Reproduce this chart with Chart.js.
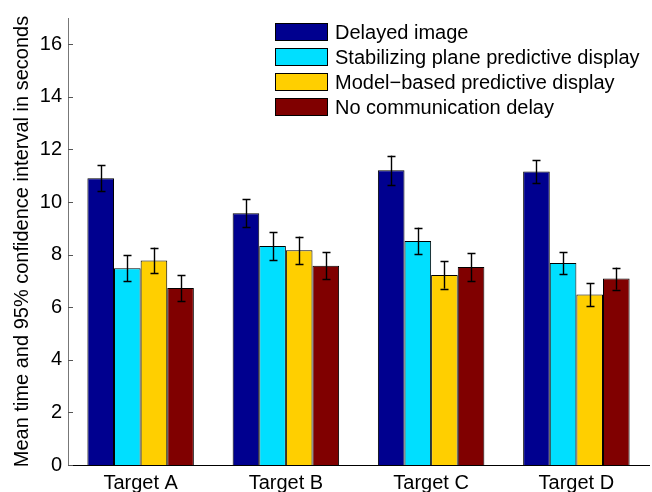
<!DOCTYPE html>
<html>
<head>
<meta charset="utf-8">
<script src="https://cdn.jsdelivr.net/npm/chart.js@4.4.1/dist/chart.umd.min.js"></script>
<style>
  html, body { margin: 0; padding: 0; background: #fff; }
  #wrap { width: 652px; height: 492px; }
</style>
</head>
<body>
<div id="wrap"><canvas id="c" width="652" height="492"></canvas></div>
<script>
// Target categories and condition names
const categories = ['Target A', 'Target B', 'Target C', 'Target D'];
const seriesNames = [
  'Delayed image',
  'Stabilizing plane predictive display',
  'Model\u2212based predictive display',
  'No communication delay'
];
const seriesColors = ['#00008f', '#00dfff', '#ffcf00', '#800000'];

// Mean completion time (s) per condition
const delayedImage   = [10.91, 9.57, 11.21, 11.16];
const stabilizing    = [7.48, 8.33, 8.52, 7.68];
const modelBased     = [7.78, 8.17, 7.23, 6.48];
const noDelay        = [6.73, 7.58, 7.53, 7.09];

// Half-width of the 95% confidence interval (s)
const delayedImageCI = [0.50, 0.53, 0.56, 0.45];
const stabilizingCI  = [0.50, 0.52, 0.51, 0.42];
const modelBasedCI   = [0.49, 0.52, 0.52, 0.43];
const noDelayCI      = [0.50, 0.52, 0.52, 0.42];

const yTicks = [0, 2, 4, 6, 8, 10, 12, 14, 16];

const means = [delayedImage, stabilizing, modelBased, noDelay];
const cis = [delayedImageCI, stabilizingCI, modelBasedCI, noDelayCI];

const FONT = 'Liberation Sans, Arial, Helvetica, sans-serif';
const FSIZE = 20;

// Error bars drawn through the value scale
const errorBars = {
  id: 'errorBars',
  afterDatasetsDraw(chart) {
    const ctx = chart.ctx;
    const y = chart.scales.y;
    ctx.save();
    ctx.strokeStyle = '#000';
    ctx.lineWidth = 1.4;
    chart.data.datasets.forEach((ds, di) => {
      const meta = chart.getDatasetMeta(di);
      meta.data.forEach((bar, i) => {
        const x = Math.round(bar.x) + 0.5;
        const hi = y.getPixelForValue(ds.data[i] + cis[di][i]);
        const lo = y.getPixelForValue(ds.data[i] - cis[di][i]);
        ctx.beginPath();
        ctx.moveTo(x, hi); ctx.lineTo(x, lo);
        ctx.moveTo(x - 4, Math.round(hi) + 0.5); ctx.lineTo(x + 4, Math.round(hi) + 0.5);
        ctx.moveTo(x - 4, Math.round(lo) + 0.5); ctx.lineTo(x + 4, Math.round(lo) + 0.5);
        ctx.stroke();
      });
    });
    ctx.restore();
  }
};

// Inward tick marks on the value axis and a boxed legend inside the plot
const axisDecor = {
  id: 'axisDecor',
  afterDraw(chart) {
    const ctx = chart.ctx;
    const y = chart.scales.y;
    const left = chart.chartArea.left;
    ctx.save();
    ctx.strokeStyle = '#555';
    ctx.lineWidth = 1;
    yTicks.forEach(v => {
      const py = Math.round(y.getPixelForValue(v)) + 0.5;
      ctx.beginPath();
      ctx.moveTo(left, py); ctx.lineTo(left + 5, py);
      ctx.stroke();
    });

    // legend
    const bx = 275, bw = 53, bh = 18, top = 23, step = 25;
    ctx.font = FSIZE + 'px ' + FONT;
    ctx.textBaseline = 'middle';
    ctx.textAlign = 'left';
    chart.data.datasets.forEach((ds, i) => {
      const ty = top + i * step;
      ctx.fillStyle = ds.backgroundColor;
      ctx.fillRect(bx, ty, bw, bh);
      ctx.strokeStyle = '#000';
      ctx.strokeRect(bx + 0.5, ty + 0.5, bw - 1, bh - 1);
      ctx.fillStyle = '#000';
      ctx.fillText(ds.label, bx + bw + 7, ty + bh / 2 + 1);
    });
    ctx.restore();
  }
};

new Chart(document.getElementById('c'), {
  type: 'bar',
  data: {
    labels: categories,
    datasets: means.map((m, i) => ({
      label: seriesNames[i],
      data: m,
      backgroundColor: seriesColors[i],
      borderColor: '#000',
      borderWidth: 1,
      barPercentage: 1.0,
      categoryPercentage: 0.733
    }))
  },
  options: {
    responsive: false,
    animation: false,
    devicePixelRatio: 1,
    layout: { padding: { left: 0, top: 8, right: 3, bottom: 0 } },
    plugins: { legend: { display: false }, tooltip: { enabled: false } },
    scales: {
      x: {
        grid: { display: false, drawTicks: false },
        border: { display: true, color: '#000', width: 1 },
        ticks: { color: '#000', font: { family: FONT, size: FSIZE }, padding: 6 },
        afterFit(s) { s.height = 27; }
      },
      y: {
        min: 0,
        max: 17,
        grid: { display: false, drawTicks: false },
        border: { display: true, color: '#777', width: 1 },
        ticks: { color: '#000', font: { family: FONT, size: FSIZE }, padding: 6 },
        afterBuildTicks(s) { s.ticks = yTicks.map(v => ({ value: v })); },
        title: {
          display: true,
          text: 'Mean time and 95% confidence interval in seconds',
          color: '#000',
          font: { family: FONT, size: FSIZE },
          padding: { top: 10, bottom: 0 }
        },
        afterFit(s) { s.width = 68; }
      }
    }
  },
  plugins: [errorBars, axisDecor]
});
</script>
</body>
</html>
